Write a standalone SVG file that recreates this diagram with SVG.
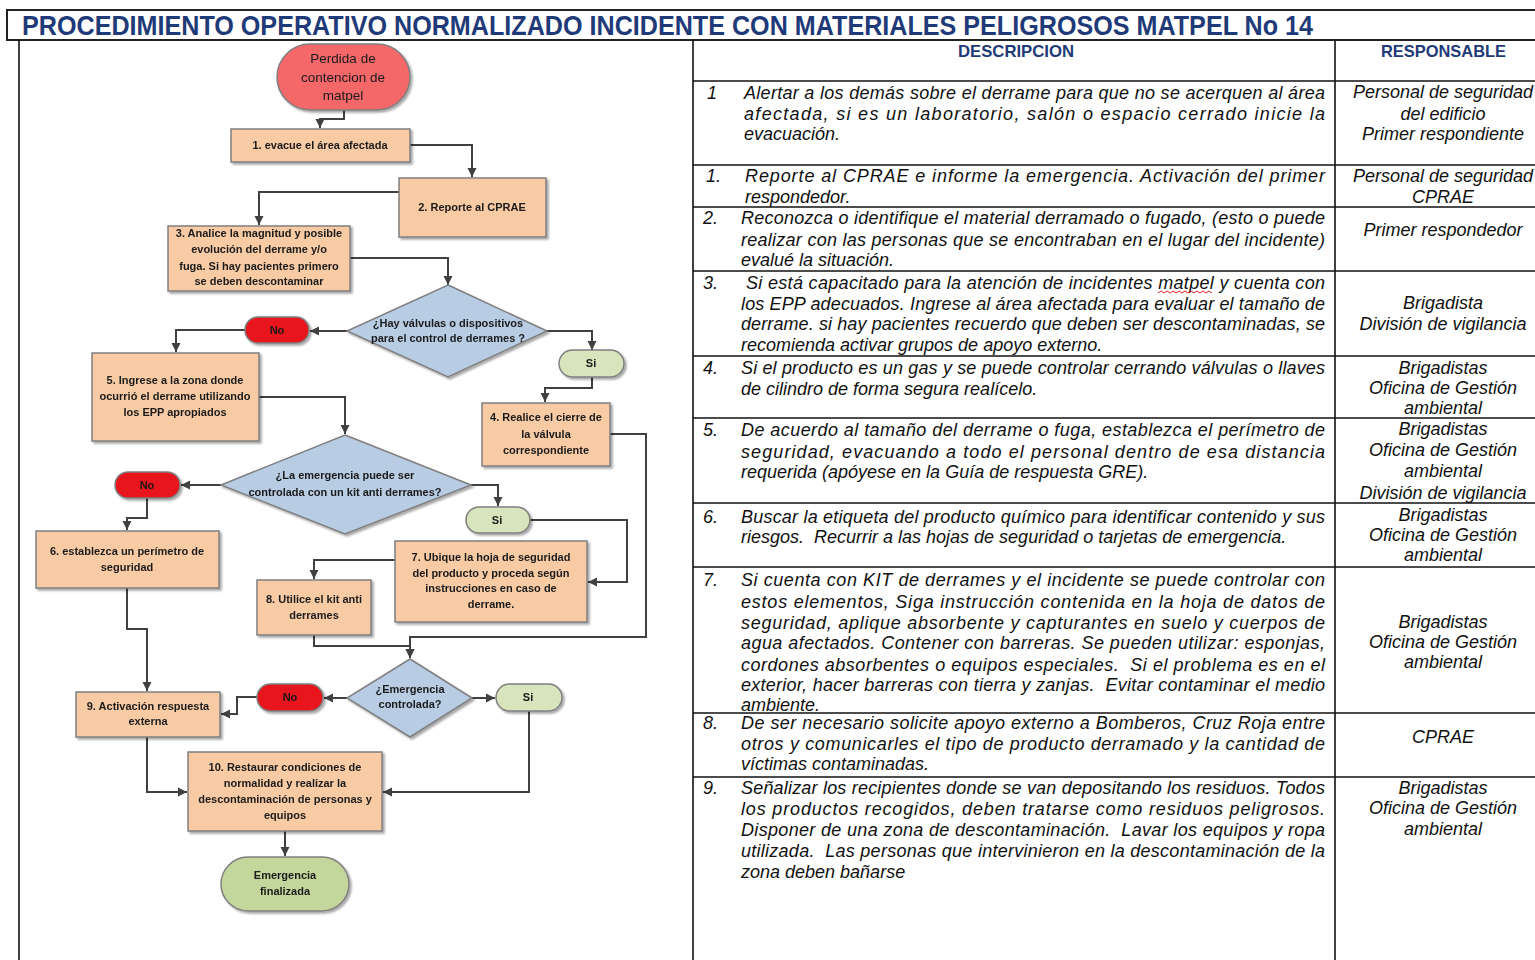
<svg xmlns="http://www.w3.org/2000/svg" width="1535" height="960" viewBox="0 0 1535 960">
<defs>
<style>
.tt{font-family:"Liberation Sans",Arial,sans-serif;font-weight:bold;font-size:28px;fill:#1f3a78}
.hd{font-family:"Liberation Sans",Arial,sans-serif;font-weight:bold;font-size:17px;fill:#1f3a78}
.d{font-family:"Liberation Sans",Arial,sans-serif;font-style:italic;font-size:18px;fill:#111}
.r{font-family:"Liberation Sans",Arial,sans-serif;font-style:italic;font-size:18px;fill:#111;text-anchor:middle}
.n{font-family:"Liberation Sans",Arial,sans-serif;font-weight:bold;font-size:11px;fill:#1a1a1a;text-anchor:middle}
.s{font-family:"Liberation Sans",Arial,sans-serif;font-size:13.5px;fill:#1a1a1a;text-anchor:middle}
.box{fill:#f8cba5;stroke:#7f7f7f;stroke-width:1.5}
.dia{fill:#b8cce4;stroke:#7f7f7f;stroke-width:1.5}
.no{fill:#e8121b;stroke:#7f7f7f;stroke-width:1.5}
.si{fill:#d8e4bc;stroke:#7f7f7f;stroke-width:1.5}
.fin{fill:#c3d69b;stroke:#7f7f7f;stroke-width:1.5}
.st{fill:#f4676b;stroke:#7f7f7f;stroke-width:1.5}
.cn{fill:none;stroke:#404040;stroke-width:2;marker-end:url(#ar)}
.ln{stroke:#111;stroke-width:1.6;fill:none}
</style>
<marker id="ar" markerUnits="userSpaceOnUse" markerWidth="10" markerHeight="10" refX="9" refY="5" orient="auto">
<path d="M0,0.5 L9,5 L0,9.5 z" fill="#404040"/>
</marker>
<filter id="sh" x="-10%" y="-10%" width="130%" height="140%">
<feDropShadow dx="2" dy="2" stdDeviation="1.2" flood-color="#000" flood-opacity="0.35"/>
</filter>
</defs>
<rect x="0" y="0" width="1535" height="960" fill="#fff"/>

<g id="frame">
<rect x="7" y="10" width="1540" height="30" fill="none" stroke="#222" stroke-width="2"/>
<text class="tt" x="22" y="35" textLength="1291" lengthAdjust="spacingAndGlyphs">PROCEDIMIENTO OPERATIVO NORMALIZADO INCIDENTE CON MATERIALES PELIGROSOS MATPEL No 14</text>
<line class="ln" x1="19" y1="40" x2="19" y2="960"/>
<line class="ln" x1="693" y1="40" x2="693" y2="960"/>
<line class="ln" x1="1335" y1="40" x2="1335" y2="960"/>
</g>

<g id="table">
<g class="ln">
<line x1="693" y1="81" x2="1535" y2="81"/>
<line x1="693" y1="165" x2="1535" y2="165"/>
<line x1="693" y1="207" x2="1535" y2="207"/>
<line x1="693" y1="271" x2="1535" y2="271"/>
<line x1="693" y1="356" x2="1535" y2="356"/>
<line x1="693" y1="418" x2="1535" y2="418"/>
<line x1="693" y1="503" x2="1535" y2="503"/>
<line x1="693" y1="567" x2="1535" y2="567"/>
<line x1="693" y1="713" x2="1535" y2="713"/>
<line x1="693" y1="777" x2="1535" y2="777"/>
</g>
<text class="hd" x="958" y="57" textLength="116" lengthAdjust="spacingAndGlyphs">DESCRIPCION</text>
<text class="hd" x="1381" y="57" textLength="125" lengthAdjust="spacingAndGlyphs">RESPONSABLE</text>

<text class="d" x="707" y="99">1</text>
<text class="d" x="744" y="99" textLength="581" lengthAdjust="spacing">Alertar a los demás sobre el derrame para que no se acerquen al área</text>
<text class="d" x="744" y="120" textLength="581" lengthAdjust="spacing">afectada, si es un laboratorio, salón o espacio cerrado inicie la</text>
<text class="d" x="744" y="140">evacuación.</text>
<text class="r" x="1443" y="98">Personal de seguridad</text>
<text class="r" x="1443" y="120">del edificio</text>
<text class="r" x="1443" y="140">Primer respondiente</text>

<text class="d" x="706" y="182">1.</text>
<text class="d" x="745" y="182" textLength="580" lengthAdjust="spacing">Reporte al CPRAE e informe la emergencia. Activación del primer</text>
<text class="d" x="745" y="203">respondedor.</text>
<text class="r" x="1443" y="182">Personal de seguridad</text>
<text class="r" x="1443" y="203">CPRAE</text>

<text class="d" x="703" y="224">2.</text>
<text class="d" x="741" y="224" textLength="584" lengthAdjust="spacing">Reconozca o identifique el material derramado o fugado, (esto o puede</text>
<text class="d" x="741" y="246" textLength="584" lengthAdjust="spacing">realizar con las personas que se encontraban en el lugar del incidente)</text>
<text class="d" x="741" y="266">evalué la situación.</text>
<text class="r" x="1443" y="236">Primer respondedor</text>

<text class="d" x="703" y="289">3.</text>
<text class="d" x="746" y="289" textLength="579" lengthAdjust="spacing">Si está capacitado para la atención de incidentes matpel y cuenta con</text>
<path d="M1158,293 l3,-2 l3,2 l3,-2 l3,2 l3,-2 l3,2 l3,-2 l3,2 l3,-2 l3,2 l3,-2 l3,2 l3,-2 l3,2 l3,-2 l3,2 l3,-2 l3,2" fill="none" stroke="#e02020" stroke-width="1"/>
<text class="d" x="741" y="310" textLength="584" lengthAdjust="spacing">los EPP adecuados. Ingrese al área afectada para evaluar el tamaño de</text>
<text class="d" x="741" y="330" textLength="584" lengthAdjust="spacing">derrame. si hay pacientes recuerdo que deben ser descontaminadas, se</text>
<text class="d" x="741" y="351">recomienda activar grupos de apoyo externo.</text>
<text class="r" x="1443" y="309">Brigadista</text>
<text class="r" x="1443" y="330">División de vigilancia</text>

<text class="d" x="703" y="374">4.</text>
<text class="d" x="741" y="374" textLength="584" lengthAdjust="spacing">Si el producto es un gas y se puede controlar cerrando válvulas o llaves</text>
<text class="d" x="741" y="395">de cilindro de forma segura realícelo.</text>
<text class="r" x="1443" y="374">Brigadistas</text>
<text class="r" x="1443" y="394">Oficina de Gestión</text>
<text class="r" x="1443" y="414">ambiental</text>

<text class="d" x="703" y="436">5.</text>
<text class="d" x="741" y="436" textLength="584" lengthAdjust="spacing">De acuerdo al tamaño del derrame o fuga, establezca el perímetro de</text>
<text class="d" x="741" y="458" textLength="584" lengthAdjust="spacing">seguridad, evacuando a todo el personal dentro de esa distancia</text>
<text class="d" x="741" y="478">requerida (apóyese en la Guía de respuesta GRE).</text>
<text class="r" x="1443" y="435">Brigadistas</text>
<text class="r" x="1443" y="456">Oficina de Gestión</text>
<text class="r" x="1443" y="477">ambiental</text>
<text class="r" x="1443" y="499">División de vigilancia</text>

<text class="d" x="703" y="523">6.</text>
<text class="d" x="741" y="523" textLength="584" lengthAdjust="spacing">Buscar la etiqueta del producto químico para identificar contenido y sus</text>
<text class="d" x="741" y="543" xml:space="preserve">riesgos.  Recurrir a las hojas de seguridad o tarjetas de emergencia.</text>
<text class="r" x="1443" y="521">Brigadistas</text>
<text class="r" x="1443" y="541">Oficina de Gestión</text>
<text class="r" x="1443" y="561">ambiental</text>

<text class="d" x="703" y="586">7.</text>
<text class="d" x="741" y="586" textLength="584" lengthAdjust="spacing">Si cuenta con KIT de derrames y el incidente se puede controlar con</text>
<text class="d" x="741" y="608" textLength="584" lengthAdjust="spacing">estos elementos, Siga instrucción contenida en la hoja de datos de</text>
<text class="d" x="741" y="629" textLength="584" lengthAdjust="spacing">seguridad, aplique absorbente y capturantes en suelo y cuerpos de</text>
<text class="d" x="741" y="649" textLength="584" lengthAdjust="spacing">agua afectados. Contener con barreras. Se pueden utilizar: esponjas,</text>
<text class="d" x="741" y="671" textLength="584" lengthAdjust="spacing" xml:space="preserve">cordones absorbentes o equipos especiales.  Si el problema es en el</text>
<text class="d" x="741" y="691" textLength="584" lengthAdjust="spacing" xml:space="preserve">exterior, hacer barreras con tierra y zanjas.  Evitar contaminar el medio</text>
<text class="d" x="741" y="711">ambiente.</text>
<text class="r" x="1443" y="628">Brigadistas</text>
<text class="r" x="1443" y="648">Oficina de Gestión</text>
<text class="r" x="1443" y="668">ambiental</text>

<text class="d" x="703" y="729">8.</text>
<text class="d" x="741" y="729" textLength="584" lengthAdjust="spacing">De ser necesario solicite apoyo externo a Bomberos, Cruz Roja entre</text>
<text class="d" x="741" y="750" textLength="584" lengthAdjust="spacing">otros y comunicarles el tipo de producto derramado y la cantidad de</text>
<text class="d" x="741" y="770">víctimas contaminadas.</text>
<text class="r" x="1443" y="743">CPRAE</text>

<text class="d" x="703" y="794">9.</text>
<text class="d" x="741" y="794" textLength="584" lengthAdjust="spacing">Señalizar los recipientes donde se van depositando los residuos. Todos</text>
<text class="d" x="741" y="815" textLength="584" lengthAdjust="spacing">los productos recogidos, deben tratarse como residuos peligrosos.</text>
<text class="d" x="741" y="836" textLength="584" lengthAdjust="spacing" xml:space="preserve">Disponer de una zona de descontaminación.  Lavar los equipos y ropa</text>
<text class="d" x="741" y="857" textLength="584" lengthAdjust="spacing" xml:space="preserve">utilizada.  Las personas que intervinieron en la descontaminación de la</text>
<text class="d" x="741" y="878">zona deben bañarse</text>
<text class="r" x="1443" y="794">Brigadistas</text>
<text class="r" x="1443" y="814">Oficina de Gestión</text>
<text class="r" x="1443" y="835">ambiental</text>
</g>

<g id="connectors">
<path class="cn" d="M344,110 V119 H320 V128"/>
<path class="cn" d="M410,145 H472 V177"/>
<path class="cn" d="M399,192 H259 V225"/>
<path class="cn" d="M350,258 H448 V285"/>
<path class="cn" d="M347,331 H310"/>
<path class="cn" d="M245,330 H176 V352"/>
<path class="cn" d="M259,397 H345 V434"/>
<path class="cn" d="M547,331 H592 V350"/>
<path class="cn" d="M592,377 V388 H545 V402"/>
<path class="cn" d="M610,434 H646 V637 H410 V658"/>
<path class="cn" d="M221,485 H181"/>
<path class="cn" d="M147,498 V518 H127 V530"/>
<path class="cn" d="M471,485 H498 V506"/>
<path class="cn" d="M530,520 H627 V582 H588"/>
<path class="cn" d="M395,560 H314 V579"/>
<path class="cn" d="M314,635 V646 H410 V658"/>
<path class="cn" d="M347,698 H324"/>
<path class="cn" d="M257,697 H237 V714 H221"/>
<path class="cn" d="M127,588 V629 H147 V691"/>
<path class="cn" d="M472,698 H495"/>
<path class="cn" d="M529,711 V792 H383"/>
<path class="cn" d="M147,737 V792 H187"/>
<path class="cn" d="M285,831 V856"/>
</g>

<g id="start" filter="url(#sh)">
<rect class="st" x="277" y="44" width="133" height="66" rx="33"/>
<text class="s" x="343" y="63">Perdida de</text>
<text class="s" x="343" y="82">contencion de</text>
<text class="s" x="343" y="100">matpel</text>
</g>
<g id="n1" filter="url(#sh)">
<rect class="box" x="231" y="129" width="179" height="33"/>
<text class="n" x="320" y="149">1. evacue el área afectada</text>
</g>
<g id="n2" filter="url(#sh)">
<rect class="box" x="399" y="178" width="147" height="59"/>
<text class="n" x="472" y="211">2. Reporte al CPRAE</text>
</g>
<g id="n3" filter="url(#sh)">
<rect class="box" x="168" y="226" width="182" height="65"/>
<text class="n" x="259" y="237">3. Analice la magnitud y posible</text>
<text class="n" x="259" y="253">evolución del derrame y/o</text>
<text class="n" x="259" y="270">fuga. Si hay pacientes primero</text>
<text class="n" x="259" y="285">se deben descontaminar</text>
</g>
<g id="d1" filter="url(#sh)">
<polygon class="dia" points="448,285 547,331 448,377 347,331"/>
<text class="n" x="448" y="327">¿Hay válvulas o dispositivos</text>
<text class="n" x="448" y="342">para el control de derrames ?</text>
</g>
<g id="no1" filter="url(#sh)">
<rect class="no" x="245" y="317" width="64" height="26" rx="13"/>
<text class="n" x="277" y="334">No</text>
</g>
<g id="si1" filter="url(#sh)">
<rect class="si" x="559" y="350" width="65" height="27" rx="13.5"/>
<text class="n" x="591" y="367">Si</text>
</g>
<g id="n4" filter="url(#sh)">
<rect class="box" x="482" y="403" width="128" height="63"/>
<text class="n" x="546" y="421">4. Realice el cierre de</text>
<text class="n" x="546" y="438">la válvula</text>
<text class="n" x="546" y="454">correspondiente</text>
</g>
<g id="n5" filter="url(#sh)">
<rect class="box" x="92" y="353" width="167" height="88"/>
<text class="n" x="175" y="384">5. Ingrese a la zona donde</text>
<text class="n" x="175" y="400">ocurrió el derrame utilizando</text>
<text class="n" x="175" y="416">los EPP apropiados</text>
</g>
<g id="d2" filter="url(#sh)">
<polygon class="dia" points="345,435 471,485 345,534 221,485"/>
<text class="n" x="345" y="479">¿La emergencia puede ser</text>
<text class="n" x="345" y="496">controlada con un kit anti derrames?</text>
</g>
<g id="no2" filter="url(#sh)">
<rect class="no" x="115" y="472" width="65" height="26" rx="13"/>
<text class="n" x="147" y="489">No</text>
</g>
<g id="si2" filter="url(#sh)">
<rect class="si" x="466" y="507" width="64" height="26" rx="13"/>
<text class="n" x="497" y="524">Si</text>
</g>
<g id="n6" filter="url(#sh)">
<rect class="box" x="36" y="531" width="183" height="57"/>
<text class="n" x="127" y="555">6. establezca un perímetro de</text>
<text class="n" x="127" y="571">seguridad</text>
</g>
<g id="n7" filter="url(#sh)">
<rect class="box" x="395" y="541" width="192" height="81"/>
<text class="n" x="491" y="561">7. Ubique la hoja de seguridad</text>
<text class="n" x="491" y="577">del producto y proceda según</text>
<text class="n" x="491" y="592">instrucciones en caso de</text>
<text class="n" x="491" y="608">derrame.</text>
</g>
<g id="n8" filter="url(#sh)">
<rect class="box" x="257" y="580" width="114" height="55"/>
<text class="n" x="314" y="603">8. Utilice el kit anti</text>
<text class="n" x="314" y="619">derrames</text>
</g>
<g id="d3" filter="url(#sh)">
<polygon class="dia" points="410,659 472,698 410,737 347,698"/>
<text class="n" x="410" y="693">¿Emergencia</text>
<text class="n" x="410" y="708">controlada?</text>
</g>
<g id="no3" filter="url(#sh)">
<rect class="no" x="257" y="684" width="66" height="27" rx="13.5"/>
<text class="n" x="290" y="701">No</text>
</g>
<g id="si3" filter="url(#sh)">
<rect class="si" x="496" y="684" width="66" height="27" rx="13.5"/>
<text class="n" x="528" y="701">Si</text>
</g>
<g id="n9" filter="url(#sh)">
<rect class="box" x="76" y="692" width="144" height="45"/>
<text class="n" x="148" y="710">9. Activación respuesta</text>
<text class="n" x="148" y="725">externa</text>
</g>
<g id="n10" filter="url(#sh)">
<rect class="box" x="188" y="752" width="194" height="79"/>
<text class="n" x="285" y="771">10. Restaurar condiciones de</text>
<text class="n" x="285" y="787">normalidad y realizar la</text>
<text class="n" x="285" y="803">descontaminación de personas y</text>
<text class="n" x="285" y="819">equipos</text>
</g>
<g id="end" filter="url(#sh)">
<rect class="fin" x="221" y="857" width="128" height="54" rx="27"/>
<text class="n" x="285" y="879">Emergencia</text>
<text class="n" x="285" y="895">finalizada</text>
</g>
</svg>
